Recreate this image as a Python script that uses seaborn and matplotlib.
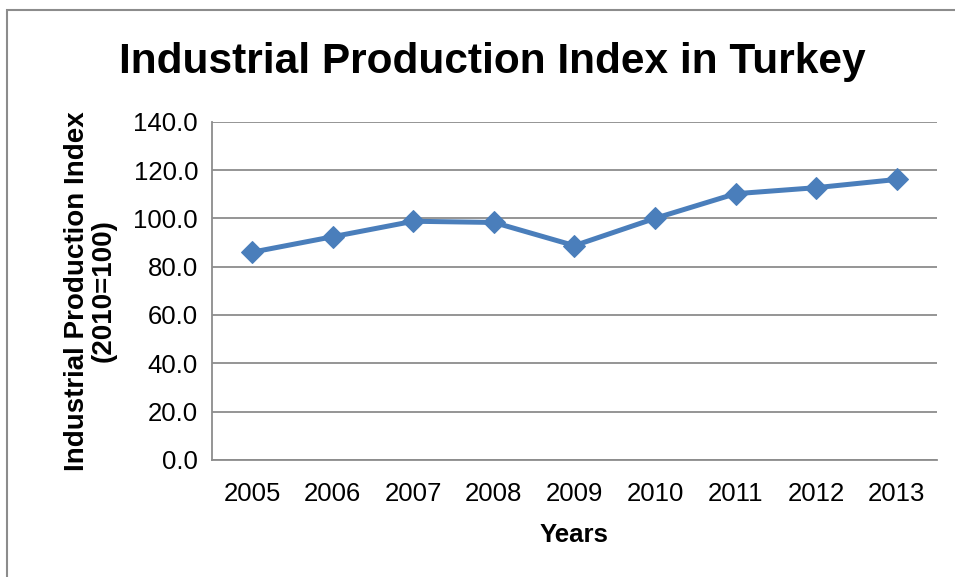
import pandas as pd
import seaborn as sns
import matplotlib.pyplot as plt
from matplotlib.patches import Rectangle
from matplotlib.ticker import FixedLocator, FormatStrFormatter

# data
years = ['2005', '2006', '2007', '2008', '2009', '2010', '2011', '2012', '2013']
index_values = [86.0, 92.4, 98.8, 98.3, 88.7, 100.0, 110.2, 112.7, 116.1]

df = pd.DataFrame({'year': years, 'ipi': index_values})
df['pos'] = range(len(df))

sns.set_style('white')
plt.rcParams['font.family'] = ['Liberation Sans', 'DejaVu Sans']
plt.rcParams['text.color'] = 'black'
plt.rcParams['axes.labelcolor'] = 'black'
plt.rcParams['xtick.labelcolor'] = 'black'
plt.rcParams['ytick.labelcolor'] = 'black'

fig = plt.figure(figsize=(9.55, 5.77), dpi=100)
ax = fig.add_axes([0.222, 0.203, 0.759, 0.586])

sns.lineplot(data=df, x='pos', y='ipi', ax=ax, color='#4A7EBB', linewidth=3.6,
             marker='D', markersize=11, markeredgecolor='#4A7EBB')

ax.set_xlim(-0.5, len(years) - 0.5)
ax.set_ylim(0, 140)
ax.set_yticks(range(0, 141, 20))
ax.yaxis.set_major_formatter(FormatStrFormatter('%.1f'))
ax.yaxis.grid(True, color='#8C8C8C', linewidth=1.3)
ax.set_axisbelow(True)

ax.set_xticks(df['pos'])
ax.set_xticklabels(years)
ax.xaxis.set_minor_locator(FixedLocator([i - 0.5 for i in range(len(years) + 1)]))
ax.tick_params(axis='x', which='major', length=0, pad=16, labelsize=18.5)
ax.tick_params(axis='x', which='minor', length=7, width=1.2, color='#8C8C8C', direction='out')
ax.tick_params(axis='y', length=6, width=1.2, color='#8C8C8C', direction='out', labelsize=18.5, pad=4)

for s in ['top', 'right']:
    ax.spines[s].set_visible(False)
for s in ['left', 'bottom']:
    ax.spines[s].set_color('#8C8C8C')
    ax.spines[s].set_linewidth(1.3)

ax.set_xlabel('Years', fontsize=18.5, fontweight='bold', labelpad=12)
ax.set_ylabel('Industrial Production Index\n(2010=100)', fontsize=20,
              fontweight='bold', labelpad=12, linespacing=1.05)

fig.text(0.515, 0.893, 'Industrial Production Index in Turkey', ha='center', va='center',
         fontsize=30.5, fontweight='bold')

# outer chart frame (cropped at right and bottom)
fig.patches.append(Rectangle((7 / 955, -0.1), 1.1, 1.1 - 10 / 577,
                             transform=fig.transFigure, fill=False,
                             edgecolor='#8C8C8C', linewidth=1.5))

fig.savefig('out.png', dpi=100)
